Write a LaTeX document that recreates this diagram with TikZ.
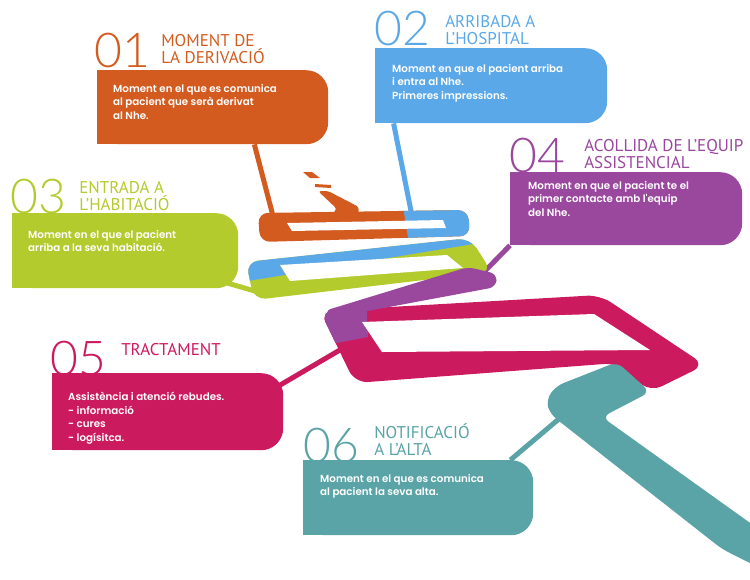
\documentclass[tikz,border=0pt]{standalone}
\usepackage{fontspec}
\usepackage{tikz}
\usetikzlibrary{backgrounds,calc,positioning}
\newfontfamily\numfont{Lato Light}
\newfontfamily\ttlfont{PT Sans}
\newfontfamily\bodyfont{Poppins SemiBold}
\definecolor{cOrange}{HTML}{D45B1F}
\definecolor{cBlue}{HTML}{5BA8E8}
\definecolor{cGreen}{HTML}{B3CB2D}
\definecolor{cPurple}{HTML}{9A479E}
\definecolor{cMagenta}{HTML}{CC1A5E}
\definecolor{cTeal}{HTML}{5AA4A7}
\tikzset{
  card/.style={fill=#1,rounded corners=22pt,inner sep=0pt,anchor=north west},
  num/.style={text=#1,font=\numfont\fontsize{48}{48}\selectfont,inner sep=0pt,anchor=base west},
  ttl/.style={text=#1,font=\ttlfont\fontsize{17}{16.5}\selectfont,inner sep=0pt,align=left,anchor=base west},
  txt/.style={text=white,font=\bodyfont\fontsize{10.3}{13.5}\selectfont,inner sep=0pt,align=left},
  link/.style={draw=#1,line width=5pt},
}
\begin{document}
\begin{tikzpicture}[x=1pt,y=-1pt]
\useasboundingbox (0,0) rectangle (750,579);
\foreach \n/\x/\y/\w/\h/\c in {c1/97/70/231/74/cOrange,c2/375/48/232/75/cBlue,c3/12/213/226/75/cGreen,
  c4/510/172/232/73/cPurple,c5/52/373/231/77/cMagenta,c6/303/460/230/75/cTeal}{
  \node[card=\c,minimum width=\w pt,minimum height=\h pt] (\n) at (\x,\y) {};
  \fill[\c] (\n.north west) rectangle ([xshift=40pt]\n.south west);
}
\node[num=cOrange] (n1) at ([xshift=-3pt,yshift=3pt]c1.north west) {01};
\node[num=cBlue] (n2) at ([xshift=-1pt,yshift=3pt]c2.north west) {02};
\node[num=cGreen] (n3) at ([xshift=-2pt,yshift=0pt]c3.north west) {03};
\node[num=cPurple] (n4) at ([xshift=-1pt,yshift=0pt]c4.north west) {04};
\node[num=cMagenta] (n5) at ([xshift=-2pt,yshift=-2pt]c5.north west) {05};
\node[num=cTeal] (n6) at ([xshift=0pt,yshift=-2pt]c6.north west) {06};
\node[ttl=cOrange] (h1) at ([xshift=11pt,yshift=4pt]n1.base east) {MOMENT DE\\LA DERIVACIÓ};
\node[ttl=cBlue] (h2) at ([xshift=15pt,yshift=1pt]n2.base east) {ARRIBADA A\\L’HOSPITAL};
\node[ttl=cGreen] (h3) at ([xshift=13pt,yshift=3pt]n3.base east) {ENTRADA A\\L’HABITACIÓ};
\node[ttl=cPurple] (h4) at ([xshift=19pt,yshift=4pt]n4.base east) {ACOLLIDA DE L’EQUIP\\ASSISTENCIAL};
\node[ttl=cMagenta] (h5) at ([xshift=15pt,yshift=20pt]n5.base east) {TRACTAMENT};
\node[ttl=cTeal] (h6) at ([xshift=15pt,yshift=7pt]n6.base east) {NOTIFICACIÓ\\A L’ALTA};
\node[txt,below right=14pt and 16pt of c1.north west] (t1) {Moment en el que es comunica\\al pacient que serà derivat\\al Nhe.};
\node[txt,below right=16pt and 17pt of c2.north west] (t2) {Moment en que el pacient arriba\\i entra al Nhe.\\Primeres impressions.};
\node[txt,below right=17pt and 16pt of c3.north west] (t3) {Moment en el que el pacient\\arriba a la seva habitació.};
\node[txt,below right=9pt and 18pt of c4.north west] (t4) {Moment en que el pacient te el\\primer contacte amb l'equip\\del Nhe.};
\node[txt,below right=19pt and 16pt of c5.north west] (t5) {Assistència i atenció rebudes.\\- informació\\- cures\\- logísitca.};
\node[txt,below right=14pt and 17pt of c6.north west] (t6) {Moment en el que es comunica\\al pacient la seva alta.};
\coordinate (a1) at (273,216);
\coordinate (a2) at (412,216);
\coordinate (a3) at (258,292);
\coordinate (a4) at (484,272);
\coordinate (a5) at (345,347);
\coordinate (a6) at (560,418);
\begin{scope}[on background layer]
\draw[link=cOrange] ($(c1.south west)!0.68!(c1.south east)$) -- (a1);
\draw[link=cBlue] ($(c2.south west)!0.08!(c2.south east)$) -- (a2);
\draw[link=cGreen] ($(c3.south east)+(-20,-8)$) -- (a3);
\draw[link=cPurple] (c4.south west) -- (a4);
\draw[link=cMagenta] ($(c5.north east)+(-10,16)$) -- (a5);
\draw[link=cTeal] ($(c6.north west)!0.9!(c6.north east)$) -- (a6);
% orange / blue
\begin{scope}
\clip[rounded corners=10pt] (258,213) -- (468,210) -- (470,236) -- (260,242) -- cycle;
\fill[cOrange] (250,200) rectangle (480,250);
\fill[cBlue] (402,200) -- (480,200) -- (480,250) -- (410,250) -- cycle;
\end{scope}
\fill[white] (287,223) -- (443,220) -- (446,228) -- (292,231) -- cycle;
\fill[cOrange,rounded corners=3pt] (318,191) -- (328,191) -- (359,207) -- (358,216) -- (330,216) -- (337,209) -- cycle;
\fill[cOrange] (303,172) -- (312,172) -- (320,178) -- (310,178) -- cycle;
\fill[cOrange] (315,184) -- (331,185) -- (331,188) -- (315,187) -- cycle;
% blue / green
\begin{scope}
\clip[rounded corners=12pt] (246,262) -- (470,238) -- (492,272) -- (254,300) -- cycle;
\fill[cGreen] (230,220) rectangle (510,310);
\fill[cBlue] (230,284) -- (510,238) -- (510,220) -- (230,220) -- cycle;
\end{scope}
\fill[white] (280,265) -- (447,255) -- (463,268) -- (290,281) -- cycle;
% magenta / purple
\begin{scope}
\clip[rounded corners=13pt] (320,311) -- (600,295) -- (705,365) -- (650,392) -- (617,363) -- (355,383) -- cycle;
\fill[cMagenta] (300,280) rectangle (720,400);
\fill[cPurple] (300,290) -- (366,290) -- (368,337) -- (300,350) -- cycle;
\end{scope}
\fill[white] (362,322) -- (594,314) -- (650,350) -- (382,352) -- cycle;
\fill[cPurple,rounded corners=7pt] (324,311) -- (468,267) -- (497,274) -- (496,287) -- (330,318) -- cycle;
% teal
\begin{scope}
\clip (0,0) rectangle (750,579);
\fill[cTeal,rounded corners=8pt] (617,362) -- (556,386) -- (546,400) -- (550,414) -- (722,549) -- (760,568)
  -- (760,530) -- (602,417) -- (650,392) -- cycle;
\end{scope}
\end{scope}
\end{tikzpicture}
\end{document}
